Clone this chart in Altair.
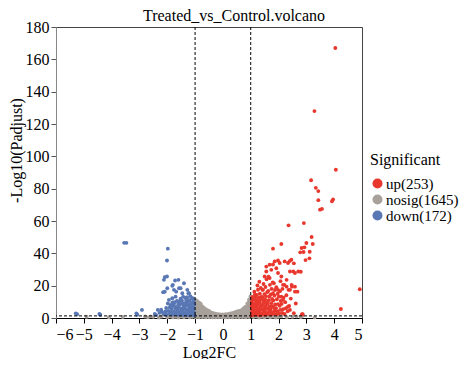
import altair as alt
import pandas as pd

# ---------------- data ----------------
group_labels = ["up(253)", "nosig(1645)", "down(172)"]
group_colors = ["#E8382E", "#A8A19B", "#5877B4"]

x_ticks = [-6, -5, -4, -3, -2, -1, 0, 1, 2, 3, 4, 5]
y_ticks = [0, 20, 40, 60, 80, 100, 120, 140, 160, 180]
threshold_x = [-1, 1]
threshold_y = [1.3]

up_x = [4.04, 3.29, 4.06, 3.17, 3.34, 3.43, 3.43, 3.92, 3.96, 3.49, 3.56, 2.91, 2.36, 3.19,
        3.0, 3.23, 2.1, 1.8, 2.83, 2.93, 2.78, 2.9, 3.12, 2.97, 3.11, 2.46, 2.55, 1.86, 1.98,
        2.04, 2.22, 2.34, 2.40, 1.56, 1.68, 1.8, 1.56, 1.74, 1.92, 1.98, 2.53, 2.59, 2.71, 2.41,
        1.5, 1.68, 2.1, 2.29, 2.59, 2.16, 2.8, 4.92, 4.24, 2.87, 2.41, 2.59, 2.47, 2.29, 1.98,
        1.8, 2.1, 2.16, 1.44, 2.34, 2.41,
        1.03, 1.06, 1.04, 1.08, 1.05, 1.09, 1.03, 1.07, 1.04, 1.08, 1.06,
        1.12, 1.15, 1.13, 1.18, 1.11, 1.16, 1.14, 1.19, 1.12, 1.17, 1.15, 1.13,
        1.22, 1.26, 1.24, 1.28, 1.21, 1.25, 1.27, 1.23, 1.29, 1.22, 1.26, 1.24,
        1.33, 1.36, 1.31, 1.38, 1.34, 1.37, 1.32, 1.35, 1.39, 1.33, 1.36, 1.31,
        1.42, 1.46, 1.44, 1.48, 1.41, 1.45, 1.47, 1.43, 1.49, 1.42, 1.46,
        1.53, 1.56, 1.51, 1.58, 1.54, 1.57, 1.52, 1.55, 1.59, 1.53, 1.57,
        1.62, 1.66, 1.64, 1.68, 1.61, 1.65, 1.67, 1.63, 1.69, 1.64,
        1.73, 1.76, 1.71, 1.78, 1.74, 1.77, 1.72, 1.75, 1.79,
        1.82, 1.86, 1.84, 1.88, 1.81, 1.85, 1.87, 1.83,
        1.93, 1.96, 1.91, 1.98, 1.94, 1.97, 1.92,
        2.02, 2.06, 2.04, 2.08, 2.01, 2.05, 2.07,
        2.13, 2.16, 2.11, 2.18, 2.14,
        2.22, 2.26, 2.24, 2.28, 2.21,
        2.33, 2.38, 2.44, 2.36, 2.48,
        2.55, 2.62, 2.68,
        2.84]
up_y = [167.0, 128.0, 91.7, 85.2, 80.5, 78.5, 72.9, 72.2, 73.3, 67.0, 67.5, 58.7, 57.3, 50.1,
        46.4, 45.8, 45.8, 42.9, 43.3, 43.7, 40.6, 40.8, 41.0, 35.8, 36.9, 36.0, 33.8, 35.0, 35.6,
        34.0, 35.0, 34.0, 35.2, 31.8, 33.0, 33.1, 28.8, 29.8, 30.8, 27.8, 28.8, 27.8, 28.8, 28.8,
        25.7, 24.7, 25.7, 23.6, 19.4, 20.5, 28.6, 17.8, 5.6, 2.3, 17.4, 16.3, 20.5, 19.4, 17.4,
        15.3, 13.2, 11.2, 17.4, 7.0, 5.0,
        1.6, 2.4, 3.3, 4.1, 5.0, 6.2, 7.5, 8.8, 10.1, 11.6, 13.0,
        1.8, 2.7, 3.6, 4.7, 5.9, 7.1, 8.4, 9.9, 11.3, 12.8, 14.5, 16.2,
        2.0, 3.1, 4.2, 5.5, 6.8, 8.2, 9.6, 11.0, 12.6, 14.3, 17.5, 20.1,
        1.7, 2.9, 4.0, 5.3, 6.7, 8.0, 9.5, 11.2, 13.0, 15.0, 18.6, 22.4,
        2.2, 3.5, 4.9, 6.3, 7.8, 9.3, 11.0, 12.9, 14.8, 17.4, 21.0,
        1.9, 3.2, 4.6, 6.1, 7.7, 9.4, 11.4, 13.5, 16.0, 19.2, 24.0,
        2.4, 3.9, 5.5, 7.2, 9.0, 11.0, 13.3, 16.8, 20.5, 25.5,
        2.1, 3.6, 5.3, 7.1, 9.2, 11.8, 14.5, 18.0, 22.0,
        2.6, 4.3, 6.2, 8.4, 10.8, 13.9, 17.3, 21.5,
        2.3, 4.0, 6.1, 8.6, 11.6, 15.0, 19.0,
        2.8, 5.0, 7.6, 10.5, 13.2, 16.6, 22.8,
        3.1, 5.4, 8.7, 12.5, 18.0,
        2.5, 6.0, 9.8, 14.1, 20.5,
        4.2, 7.5, 12.0, 17.4, 19.4,
        3.0, 9.0, 16.3,
        2.3]

down_x = [-3.55, -3.47, -1.98, -2.01, -2.09, -2.01, -2.15, -2.09, -2.0, -1.72, -1.6, -1.82,
          -1.76, -1.68, -1.4, -1.52, -1.46, -1.28, -1.22, -1.94, -1.82, -1.70, -1.88, -1.76,
          -5.29, -5.24, -4.44, -4.41, -3.11, -3.08, -2.91, -2.34, -2.45, -2.40, -2.12,
          -2.12, -1.80, -1.58, -1.24, -2.20, -2.28,
          -1.03, -1.06, -1.04, -1.08, -1.05, -1.09, -1.03, -1.07, -1.04, -1.08,
          -1.12, -1.15, -1.13, -1.18, -1.11, -1.16, -1.14, -1.19, -1.12, -1.17,
          -1.22, -1.26, -1.24, -1.28, -1.21, -1.25, -1.27, -1.23, -1.29,
          -1.33, -1.36, -1.31, -1.38, -1.34, -1.37, -1.32, -1.35,
          -1.42, -1.46, -1.44, -1.48, -1.41, -1.45, -1.47, -1.43,
          -1.53, -1.56, -1.51, -1.58, -1.54, -1.57, -1.52,
          -1.62, -1.66, -1.64, -1.68, -1.61, -1.65,
          -1.73, -1.76, -1.71, -1.78, -1.74,
          -1.82, -1.86, -1.84, -1.88, -1.81,
          -1.93, -1.96, -1.91, -1.98,
          -2.03, -2.06, -2.04,
          -2.14, -2.22]
down_y = [46.5, 46.5, 42.9, 35.6, 25.3, 25.7, 16.0, 16.2, 18.4, 23.2, 23.6, 19.9,
          17.4, 16.3, 21.5, 18.4, 15.3, 17.4, 15.3, 11.2, 12.2, 13.2, 8.1, 8.7,
          2.9, 2.3, 2.5, 2.0, 2.9, 2.0, 5.0, 5.0, 2.5, 1.8, 2.3,
          23.6, 20.5, 18.4, 15.3, 4.1, 3.2,
          1.6, 2.5, 3.5, 4.6, 5.8, 7.0, 8.3, 9.6, 11.0, 12.3,
          1.9, 2.9, 4.0, 5.2, 6.5, 7.8, 9.2, 10.7, 12.1, 13.5,
          1.7, 2.7, 3.9, 5.1, 6.4, 7.9, 9.4, 11.0, 12.8,
          2.0, 3.2, 4.5, 5.9, 7.4, 9.0, 10.6, 12.4,
          1.8, 3.0, 4.3, 5.8, 7.3, 8.9, 10.7, 13.2,
          2.2, 3.6, 5.1, 6.7, 8.4, 10.2, 12.0,
          1.9, 3.4, 5.0, 6.8, 8.6, 10.5,
          2.4, 4.0, 5.8, 7.6, 9.8,
          2.1, 3.9, 5.9, 7.2, 9.7,
          2.6, 4.4, 6.5, 9.0,
          2.0, 4.0, 6.2,
          3.0, 5.1]

nosig_x = [-0.98, -0.98, -0.98, -0.98, -0.98, -0.98, -0.98, -0.98, -0.98,
           -0.92, -0.92, -0.92, -0.92, -0.92, -0.92, -0.92, -0.92,
           -0.86, -0.86, -0.86, -0.86, -0.86, -0.86, -0.86, -0.86,
           -0.80, -0.80, -0.80, -0.80, -0.80, -0.80, -0.80,
           -0.74, -0.74, -0.74, -0.74, -0.74, -0.74,
           -0.68, -0.68, -0.68, -0.68, -0.68,
           -0.62, -0.62, -0.62, -0.62, -0.62,
           -0.56, -0.56, -0.56, -0.56,
           -0.50, -0.50, -0.50, -0.50,
           -0.44, -0.44, -0.44,
           -0.38, -0.38, -0.38,
           -0.32, -0.32, -0.32,
           -0.26, -0.26, -0.26,
           -0.20, -0.20,
           -0.14, -0.14, -0.14,
           -0.08, -0.08,
           -0.02, -0.02, -0.02,
           0.04, 0.04,
           0.10, 0.10, 0.10,
           0.16, 0.16,
           0.22, 0.22, 0.22,
           0.28, 0.28, 0.28,
           0.34, 0.34, 0.34,
           0.40, 0.40, 0.40,
           0.46, 0.46, 0.46, 0.46,
           0.52, 0.52, 0.52, 0.52,
           0.58, 0.58, 0.58, 0.58,
           0.64, 0.64, 0.64, 0.64,
           0.70, 0.70, 0.70, 0.70, 0.70,
           0.76, 0.76, 0.76, 0.76, 0.76,
           0.82, 0.82, 0.82, 0.82, 0.82, 0.82,
           0.88, 0.88, 0.88, 0.88, 0.88, 0.88, 0.88,
           0.94, 0.94, 0.94, 0.94, 0.94, 0.94, 0.94, 0.94, 0.94,
           0.99, 0.99, 0.99, 0.99, 0.99, 0.99, 0.99, 0.99, 0.99, 0.99,
           -4.9, -4.1, -3.6, -2.8, -2.7, -2.6, -2.5, -2.3, -2.2, -2.0, -1.9, -1.8, -1.7,
           -1.6, -1.5, -1.4, -1.3, -1.2, -1.1,
           1.1, 1.2, 1.3, 1.4, 1.5, 1.6, 1.7, 1.8, 1.9, 2.0, 2.1, 2.3, 2.5, 2.65, 2.8,
           2.85, 3.3]
nosig_y = [0.4, 1.6, 2.9, 4.2, 5.6, 7.0, 8.4, 9.8, 11.2,
           1.0, 2.3, 3.6, 5.0, 6.3, 7.7, 9.1, 10.4,
           0.5, 1.8, 3.1, 4.4, 5.8, 7.1, 8.6, 9.6,
           1.2, 2.5, 3.8, 5.2, 6.5, 7.9, 8.8,
           0.6, 1.9, 3.2, 4.6, 5.9, 7.2,
           1.1, 2.4, 3.7, 5.0, 6.2,
           0.5, 1.8, 3.1, 4.4, 5.5,
           1.0, 2.3, 3.6, 4.8,
           0.4, 1.7, 3.0, 4.3,
           1.1, 2.4, 3.6,
           0.5, 1.8, 3.2,
           1.0, 2.2, 2.9,
           0.4, 1.6, 2.6,
           1.0, 2.2,
           0.5, 1.6, 2.3,
           1.0, 2.0,
           0.4, 1.5, 2.2,
           1.0, 2.0,
           0.5, 1.6, 2.3,
           1.1, 2.2,
           0.4, 1.7, 2.6,
           1.0, 2.3, 2.8,
           0.5, 1.8, 3.0,
           1.2, 2.4, 3.3,
           0.6, 1.9, 3.0, 3.7,
           1.1, 2.4, 3.6, 4.1,
           0.5, 1.8, 3.1, 4.3,
           1.2, 2.5, 3.7, 4.6,
           0.6, 1.9, 3.2, 4.4, 5.3,
           1.1, 2.4, 3.7, 5.0, 6.2,
           0.5, 1.8, 3.1, 4.4, 5.7, 7.0,
           1.2, 2.5, 3.8, 5.1, 6.4, 7.8, 9.0,
           0.6, 1.9, 3.2, 4.5, 5.8, 7.2, 8.6, 10.0, 11.4,
           1.0, 2.4, 3.7, 5.0, 6.4, 7.8, 9.2, 10.6, 12.0, 13.3,
           0.8, 0.5, 0.6, 0.9, 0.4, 1.0, 0.7, 0.3, 0.9, 0.5, 1.0, 0.4, 0.8,
           0.3, 0.9, 0.5, 1.0, 0.4, 0.8,
           0.6, 0.9, 0.3, 0.8, 0.4, 1.0, 0.5, 0.9, 0.3, 0.7, 1.0, 0.5, 0.8, 1.0, 0.6,
           1.1, 0.4]

# ---------------- build table ----------------
frames = [
    pd.DataFrame({"x": nosig_x, "y": nosig_y, "group": group_labels[1]}),
    pd.DataFrame({"x": down_x, "y": down_y, "group": group_labels[2]}),
    pd.DataFrame({"x": up_x, "y": up_y, "group": group_labels[0]}),
]
df = pd.concat(frames, ignore_index=True)
df["ord"] = range(len(df))

FONT = "Liberation Serif"

x_scale = alt.Scale(domain=[-6, 5], nice=False, zero=False)
y_scale = alt.Scale(domain=[0, 180], nice=False)

x_axis = alt.Axis(values=x_ticks, title="Log2FC", grid=False, format="d",
                  labelOverlap=False,
                  domainColor="#000000", tickColor="#000000", tickSize=5,
                  labelPadding=3, titlePadding=2)
y_axis = alt.Axis(values=y_ticks, title="-Log10(Padjust)", grid=False,
                  labelOverlap=False,
                  domainColor="#888888", tickColor="#555555", tickSize=5,
                  labelPadding=2, titleX=-35, titleY=123,
                  titleBaseline="alphabetic")

points = alt.Chart(df).mark_circle(size=15, opacity=1).encode(
    x=alt.X("x:Q", scale=x_scale, axis=x_axis),
    y=alt.Y("y:Q", scale=y_scale, axis=y_axis),
    color=alt.Color("group:N",
                    scale=alt.Scale(domain=group_labels, range=group_colors),
                    legend=alt.Legend(title="Significant", orient="none",
                                      legendX=314, legendY=125,
                                      symbolType="circle", symbolSize=100,
                                      symbolStrokeWidth=0, rowPadding=-2,
                                      titlePadding=8, labelOffset=1,
                                      titleFontSize=16, labelFontSize=15,
                                      titleFont=FONT, labelFont=FONT,
                                      titleFontWeight="normal", titleColor="#000",
                                      labelColor="#000")),
    order=alt.Order("ord:Q"),
)

vlines = alt.Chart(pd.DataFrame({"x": threshold_x})).mark_rule(
    color="black", strokeDash=[3, 2], strokeWidth=1
).encode(x=alt.X("x:Q", scale=x_scale, axis=x_axis))

hline = alt.Chart(pd.DataFrame({"y": threshold_y})).mark_rule(
    color="black", strokeDash=[3, 2], strokeWidth=1
).encode(y=alt.Y("y:Q", scale=y_scale, axis=y_axis))

chart = alt.layer(points, vlines, hline).properties(
    width=306, height=291,
    autosize="none",
    padding={"left": 48, "top": 19, "right": 101, "bottom": 41},
    title=alt.TitleParams("Treated_vs_Control.volcano", font=FONT, fontSize=16,
                          fontWeight="normal", color="#000", anchor="middle",
                          dx=25, offset=-5),
).configure_view(stroke="#444444", strokeWidth=1).configure_axis(
    labelFont=FONT, titleFont=FONT, labelFontSize=16, titleFontSize=16,
    titleFontWeight="normal", labelColor="#000", titleColor="#000",
)

chart.save("out.html", embed_options={"renderer": "svg", "actions": False})
